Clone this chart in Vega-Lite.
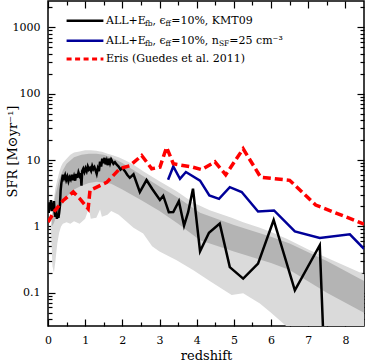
{
  "$schema": "https://vega.github.io/schema/vega-lite/v6.json",
  "width": 316,
  "height": 325,
  "autosize": "none",
  "padding": {"left": 48, "top": 1, "right": 2, "bottom": 36},
  "config": {
    "view": {"stroke": "black", "strokeWidth": 1.5},
    "axis": {"domain": false, "grid": false, "labelFont": "DejaVu Serif", "labelFontSize": 11, "labelColor": "black", "tickColor": "black", "tickWidth": 1.2, "titleFont": "DejaVu Serif", "titleFontSize": 12, "titleFontWeight": "normal", "titleColor": "black", "labelOverlap": false, "zindex": 1}
  },
  "datasets": {
    "light": [
      {"z": 0.08, "lo": 0.9, "hi": 1.0}, {"z": 0.12, "lo": 0.25, "hi": 1.6}, {"z": 0.16, "lo": 0.2, "hi": 2.6},
      {"z": 0.2, "lo": 0.3, "hi": 3.8}, {"z": 0.25, "lo": 0.55, "hi": 5.0}, {"z": 0.3, "lo": 0.8, "hi": 6.5},
      {"z": 0.35, "lo": 1.0, "hi": 8.0}, {"z": 0.4, "lo": 1.1, "hi": 9.0}, {"z": 0.5, "lo": 1.15, "hi": 10.5},
      {"z": 0.6, "lo": 1.1, "hi": 12.0}, {"z": 0.7, "lo": 1.2, "hi": 13.0}, {"z": 0.85, "lo": 1.1, "hi": 13.5},
      {"z": 1.0, "lo": 1.3, "hi": 14.0}, {"z": 1.1, "lo": 1.9, "hi": 14.0}, {"z": 1.15, "lo": 1.3, "hi": 14.0},
      {"z": 1.3, "lo": 1.35, "hi": 13.8}, {"z": 1.4, "lo": 1.8, "hi": 13.5}, {"z": 1.45, "lo": 1.4, "hi": 13.3},
      {"z": 1.6, "lo": 1.5, "hi": 12.5}, {"z": 1.7, "lo": 1.7, "hi": 12.0}, {"z": 1.9, "lo": 1.5, "hi": 11.0},
      {"z": 2.1, "lo": 1.2, "hi": 9.8}, {"z": 2.3, "lo": 0.95, "hi": 8.5}, {"z": 2.56, "lo": 0.78, "hi": 6.8},
      {"z": 2.8, "lo": 0.5, "hi": 5.6}, {"z": 3.0, "lo": 0.42, "hi": 4.8}, {"z": 3.46, "lo": 0.31, "hi": 3.4},
      {"z": 3.9, "lo": 0.22, "hi": 2.3}, {"z": 4.35, "lo": 0.15, "hi": 1.75}, {"z": 4.94, "lo": 0.092, "hi": 1.35},
      {"z": 5.25, "lo": 0.098, "hi": 1.15}, {"z": 5.7, "lo": 0.069, "hi": 0.95}, {"z": 6.0, "lo": 0.05, "hi": 0.82},
      {"z": 6.42, "lo": 0.031, "hi": 0.65}, {"z": 7.0, "lo": 0.018, "hi": 0.45}, {"z": 8.5, "lo": 0.006, "hi": 0.19}
    ],
    "dark": [
      {"z": 0.1, "lo": 1.0, "hi": 1.3}, {"z": 0.15, "lo": 1.1, "hi": 2.0}, {"z": 0.2, "lo": 1.3, "hi": 3.0},
      {"z": 0.3, "lo": 1.8, "hi": 5.0}, {"z": 0.4, "lo": 2.3, "hi": 7.0}, {"z": 0.5, "lo": 2.8, "hi": 8.8},
      {"z": 0.7, "lo": 3.6, "hi": 11.0}, {"z": 0.9, "lo": 4.1, "hi": 12.0}, {"z": 1.1, "lo": 4.5, "hi": 12.5},
      {"z": 1.3, "lo": 4.7, "hi": 12.5}, {"z": 1.5, "lo": 4.6, "hi": 12.0}, {"z": 1.7, "lo": 4.4, "hi": 11.0},
      {"z": 2.0, "lo": 3.6, "hi": 9.0}, {"z": 2.5, "lo": 2.5, "hi": 6.0}, {"z": 3.0, "lo": 1.7, "hi": 4.0},
      {"z": 3.5, "lo": 1.1, "hi": 2.7}, {"z": 4.09, "lo": 0.62, "hi": 1.6}, {"z": 5.0, "lo": 0.42, "hi": 1.05},
      {"z": 6.0, "lo": 0.28, "hi": 0.7}, {"z": 6.5, "lo": 0.22, "hi": 0.55}, {"z": 7.5, "lo": 0.1, "hi": 0.3},
      {"z": 8.5, "lo": 0.05, "hi": 0.15}
    ],
    "kmt": [
      {"z": 0.0, "sfr": 2.1}, {"z": 0.02, "sfr": 1.6}, {"z": 0.04, "sfr": 2.3}, {"z": 0.06, "sfr": 1.8},
      {"z": 0.08, "sfr": 2.5}, {"z": 0.1, "sfr": 1.7}, {"z": 0.12, "sfr": 2.2}, {"z": 0.14, "sfr": 1.9},
      {"z": 0.16, "sfr": 2.4}, {"z": 0.18, "sfr": 1.6}, {"z": 0.2, "sfr": 1.4}, {"z": 0.22, "sfr": 1.8},
      {"z": 0.24, "sfr": 1.3}, {"z": 0.26, "sfr": 1.5}, {"z": 0.28, "sfr": 1.35}, {"z": 0.3, "sfr": 1.6},
      {"z": 0.32, "sfr": 2.0}, {"z": 0.34, "sfr": 3.5}, {"z": 0.36, "sfr": 4.5}, {"z": 0.38, "sfr": 5.2},
      {"z": 0.4, "sfr": 6.0}, {"z": 0.43, "sfr": 5.3}, {"z": 0.46, "sfr": 5.9}, {"z": 0.49, "sfr": 5.0},
      {"z": 0.52, "sfr": 5.6}, {"z": 0.55, "sfr": 4.8}, {"z": 0.58, "sfr": 5.5}, {"z": 0.61, "sfr": 5.1},
      {"z": 0.64, "sfr": 6.0}, {"z": 0.67, "sfr": 5.0}, {"z": 0.7, "sfr": 5.7}, {"z": 0.73, "sfr": 4.9},
      {"z": 0.76, "sfr": 6.2}, {"z": 0.79, "sfr": 5.4}, {"z": 0.82, "sfr": 6.5}, {"z": 0.85, "sfr": 5.8},
      {"z": 0.88, "sfr": 6.3}, {"z": 0.9, "sfr": 4.1}, {"z": 0.92, "sfr": 6.8}, {"z": 0.95, "sfr": 7.4},
      {"z": 0.98, "sfr": 6.6}, {"z": 1.01, "sfr": 7.5}, {"z": 1.04, "sfr": 6.8}, {"z": 1.07, "sfr": 8.0},
      {"z": 1.1, "sfr": 7.2}, {"z": 1.13, "sfr": 7.6}, {"z": 1.16, "sfr": 6.9}, {"z": 1.19, "sfr": 8.1},
      {"z": 1.22, "sfr": 7.3}, {"z": 1.25, "sfr": 7.8}, {"z": 1.28, "sfr": 7.0}, {"z": 1.31, "sfr": 6.2},
      {"z": 1.34, "sfr": 7.5}, {"z": 1.37, "sfr": 6.8}, {"z": 1.4, "sfr": 9.5}, {"z": 1.43, "sfr": 8.0},
      {"z": 1.46, "sfr": 10.5}, {"z": 1.49, "sfr": 9.0}, {"z": 1.52, "sfr": 10.8}, {"z": 1.55, "sfr": 8.6},
      {"z": 1.58, "sfr": 9.8}, {"z": 1.61, "sfr": 8.4}, {"z": 1.64, "sfr": 10.5}, {"z": 1.67, "sfr": 9.0},
      {"z": 1.7, "sfr": 10.2}, {"z": 1.73, "sfr": 9.5}, {"z": 1.76, "sfr": 8.8}, {"z": 1.8, "sfr": 9.3},
      {"z": 1.85, "sfr": 8.5}, {"z": 1.9, "sfr": 8.0}, {"z": 1.95, "sfr": 7.2}, {"z": 2.0, "sfr": 7.6},
      {"z": 2.07, "sfr": 6.8}, {"z": 2.13, "sfr": 6.0}, {"z": 2.2, "sfr": 5.4}, {"z": 2.3, "sfr": 6.1},
      {"z": 2.47, "sfr": 3.3}, {"z": 2.65, "sfr": 5.0}, {"z": 2.8, "sfr": 3.7}, {"z": 3.01, "sfr": 2.5},
      {"z": 3.1, "sfr": 2.9}, {"z": 3.25, "sfr": 1.64}, {"z": 3.37, "sfr": 1.65}, {"z": 3.52, "sfr": 2.4},
      {"z": 3.66, "sfr": 1.03}, {"z": 3.77, "sfr": 1.64}, {"z": 3.9, "sfr": 3.7}, {"z": 4.09, "sfr": 0.42},
      {"z": 4.33, "sfr": 0.8}, {"z": 4.62, "sfr": 1.1}, {"z": 4.89, "sfr": 0.243}, {"z": 5.25, "sfr": 0.163},
      {"z": 5.65, "sfr": 0.275}, {"z": 6.07, "sfr": 1.25}, {"z": 6.64, "sfr": 0.109}, {"z": 7.31, "sfr": 0.52},
      {"z": 7.43, "sfr": 0.01}
    ],
    "nsf": [
      {"z": 3.23, "sfr": 5.05}, {"z": 3.37, "sfr": 8.0}, {"z": 3.55, "sfr": 5.2}, {"z": 3.71, "sfr": 6.6},
      {"z": 4.09, "sfr": 4.9}, {"z": 4.34, "sfr": 2.93}, {"z": 4.6, "sfr": 2.6}, {"z": 4.89, "sfr": 3.9},
      {"z": 5.21, "sfr": 3.3}, {"z": 5.65, "sfr": 1.68}, {"z": 6.08, "sfr": 1.74}, {"z": 6.64, "sfr": 0.84},
      {"z": 7.31, "sfr": 0.67}, {"z": 8.12, "sfr": 0.76}, {"z": 8.5, "sfr": 0.46}
    ],
    "eris": [
      {"z": 0.0, "sfr": 1.16}, {"z": 0.19, "sfr": 1.74}, {"z": 0.41, "sfr": 2.46}, {"z": 0.68, "sfr": 3.3},
      {"z": 0.86, "sfr": 2.6}, {"z": 1.08, "sfr": 1.85}, {"z": 1.13, "sfr": 3.5}, {"z": 1.58, "sfr": 4.6},
      {"z": 1.94, "sfr": 7.5}, {"z": 2.2, "sfr": 8.2}, {"z": 2.52, "sfr": 11.7}, {"z": 2.79, "sfr": 7.4},
      {"z": 3.01, "sfr": 7.8}, {"z": 3.19, "sfr": 15.6}, {"z": 3.37, "sfr": 8.8}, {"z": 3.9, "sfr": 7.8},
      {"z": 4.13, "sfr": 7.2}, {"z": 4.49, "sfr": 9.4}, {"z": 4.78, "sfr": 6.0}, {"z": 5.25, "sfr": 14.8},
      {"z": 5.72, "sfr": 5.5}, {"z": 6.5, "sfr": 4.95}, {"z": 7.2, "sfr": 2.1}, {"z": 8.1, "sfr": 1.33},
      {"z": 8.5, "sfr": 1.08}
    ],
    "legendMain": [
      {"z": 1.559, "sfr": 1260, "t": "ALL+E"}, {"z": 2.812, "sfr": 1260, "t": ", ϵ"}, {"z": 3.313, "sfr": 1260, "t": "=10%, KMT09"},
      {"z": 1.559, "sfr": 630, "t": "ALL+E"}, {"z": 2.812, "sfr": 630, "t": ", ϵ"}, {"z": 3.313, "sfr": 630, "t": "=10%, n"},
      {"z": 4.876, "sfr": 630, "t": "=25 cm⁻³"},
      {"z": 1.559, "sfr": 335, "t": "Eris (Guedes et al. 2011)"}
    ],
    "legendSub": [
      {"z": 2.608, "sfr": 1260, "t": "fb"}, {"z": 3.163, "sfr": 1260, "t": "ff"},
      {"z": 2.608, "sfr": 630, "t": "fb"}, {"z": 3.163, "sfr": 630, "t": "ff"}, {"z": 4.597, "sfr": 630, "t": "SF"}
    ]
  },
  "layer": [
    {
      "data": {"name": "light"},
      "mark": {"type": "area", "color": "#dadada", "clip": true},
      "encoding": {
        "x": {"field": "z", "type": "quantitative", "scale": {"domain": [0, 8.5], "nice": false, "zero": false},
          "axis": {"orient": "bottom", "values": [0, 1, 2, 3, 4, 5, 6, 7, 8], "tickSize": -7, "labelPadding": 15, "labelFlush": false, "format": "d", "title": "redshift", "titleFontSize": 13, "titlePadding": 4}},
        "y": {"field": "lo", "type": "quantitative", "scale": {"type": "log", "domain": [0.0315, 2500], "nice": false},
          "axis": {"orient": "left", "values": [0.1, 1, 10, 100, 1000], "tickSize": -7, "labelPadding": 15, "format": "~g", "title": "SFR [M⊙yr⁻¹]", "titleFontSize": 13, "titleX": -29, "titleY": 150}},
        "y2": {"field": "hi"}
      }
    },
    {
      "data": {"name": "dark"},
      "mark": {"type": "area", "color": "#b4b4b4", "clip": true},
      "encoding": {
        "x": {"field": "z", "type": "quantitative", "scale": {"domain": [0, 8.5], "nice": false, "zero": false},
          "axis": {"orient": "bottom", "values": [0.5, 1.5, 2.5, 3.5, 4.5, 5.5, 6.5, 7.5], "tickSize": -4, "labels": false, "title": null}},
        "y": {"field": "lo", "type": "quantitative", "scale": {"type": "log", "domain": [0.0315, 2500], "nice": false},
          "axis": {"orient": "left", "values": [0.04, 0.05, 0.06, 0.07, 0.08, 0.09, 0.2, 0.3, 0.4, 0.5, 0.6, 0.7, 0.8, 0.9, 2, 3, 4, 5, 6, 7, 8, 9, 20, 30, 40, 50, 60, 70, 80, 90, 200, 300, 400, 500, 600, 700, 800, 900, 2000], "tickSize": -4, "labels": false, "title": null}},
        "y2": {"field": "hi"}
      }
    },
    {
      "data": {"name": "kmt"},
      "mark": {"type": "line", "color": "black", "strokeWidth": 2.5, "clip": true, "strokeJoin": "miter"},
      "encoding": {
        "x": {"field": "z", "type": "quantitative", "scale": {"domain": [0, 8.5], "nice": false, "zero": false},
          "axis": {"orient": "top", "values": [0, 1, 2, 3, 4, 5, 6, 7, 8], "tickSize": -7, "labels": false, "title": null}},
        "y": {"field": "sfr", "type": "quantitative", "scale": {"type": "log", "domain": [0.0315, 2500], "nice": false},
          "axis": {"orient": "right", "values": [0.1, 1, 10, 100, 1000], "tickSize": -7, "labels": false, "title": null}}
      }
    },
    {
      "data": {"name": "nsf"},
      "mark": {"type": "line", "color": "#000099", "strokeWidth": 2.5, "clip": true},
      "encoding": {
        "x": {"field": "z", "type": "quantitative", "scale": {"domain": [0, 8.5], "nice": false, "zero": false},
          "axis": {"orient": "top", "values": [0.5, 1.5, 2.5, 3.5, 4.5, 5.5, 6.5, 7.5], "tickSize": -4, "labels": false, "title": null}},
        "y": {"field": "sfr", "type": "quantitative", "scale": {"type": "log", "domain": [0.0315, 2500], "nice": false},
          "axis": {"orient": "right", "values": [0.04, 0.05, 0.06, 0.07, 0.08, 0.09, 0.2, 0.3, 0.4, 0.5, 0.6, 0.7, 0.8, 0.9, 2, 3, 4, 5, 6, 7, 8, 9, 20, 30, 40, 50, 60, 70, 80, 90, 200, 300, 400, 500, 600, 700, 800, 900, 2000], "tickSize": -4, "labels": false, "title": null}}
      }
    },
    {
      "data": {"name": "eris"},
      "mark": {"type": "line", "color": "#ff0000", "strokeWidth": 3.5, "strokeDash": [8, 4], "clip": true},
      "encoding": {
        "x": {"field": "z", "type": "quantitative", "scale": {"domain": [0, 8.5], "nice": false, "zero": false}, "axis": null},
        "y": {"field": "sfr", "type": "quantitative", "scale": {"type": "log", "domain": [0.0315, 2500], "nice": false}, "axis": null}
      }
    },
    {
      "data": {"values": [{"z": 0.5, "z2": 1.49, "sfr": 1260}]},
      "mark": {"type": "rule", "color": "black", "strokeWidth": 2.5},
      "encoding": {
        "x": {"field": "z", "type": "quantitative", "scale": {"domain": [0, 8.5], "nice": false, "zero": false}, "axis": null},
        "x2": {"field": "z2"},
        "y": {"field": "sfr", "type": "quantitative", "scale": {"type": "log", "domain": [0.0315, 2500], "nice": false}, "axis": null}
      }
    },
    {
      "data": {"values": [{"z": 0.5, "z2": 1.49, "sfr": 630}]},
      "mark": {"type": "rule", "color": "#000099", "strokeWidth": 2.5},
      "encoding": {
        "x": {"field": "z", "type": "quantitative", "scale": {"domain": [0, 8.5], "nice": false, "zero": false}, "axis": null},
        "x2": {"field": "z2"},
        "y": {"field": "sfr", "type": "quantitative", "scale": {"type": "log", "domain": [0.0315, 2500], "nice": false}, "axis": null}
      }
    },
    {
      "data": {"values": [{"z": 0.5, "z2": 1.49, "sfr": 335}]},
      "mark": {"type": "rule", "color": "#ff0000", "strokeWidth": 3, "strokeDash": [5, 3.5]},
      "encoding": {
        "x": {"field": "z", "type": "quantitative", "scale": {"domain": [0, 8.5], "nice": false, "zero": false}, "axis": null},
        "x2": {"field": "z2"},
        "y": {"field": "sfr", "type": "quantitative", "scale": {"type": "log", "domain": [0.0315, 2500], "nice": false}, "axis": null}
      }
    },
    {
      "data": {"name": "legendMain"},
      "mark": {"type": "text", "font": "DejaVu Serif", "fontSize": 11, "align": "left", "baseline": "middle", "color": "black"},
      "encoding": {
        "x": {"field": "z", "type": "quantitative", "scale": {"domain": [0, 8.5], "nice": false, "zero": false}, "axis": null},
        "y": {"field": "sfr", "type": "quantitative", "scale": {"type": "log", "domain": [0.0315, 2500], "nice": false}, "axis": null},
        "text": {"field": "t"}
      }
    },
    {
      "data": {"name": "legendSub"},
      "mark": {"type": "text", "font": "DejaVu Serif", "fontSize": 7.5, "align": "left", "baseline": "middle", "dy": 3, "color": "black"},
      "encoding": {
        "x": {"field": "z", "type": "quantitative", "scale": {"domain": [0, 8.5], "nice": false, "zero": false}, "axis": null},
        "y": {"field": "sfr", "type": "quantitative", "scale": {"type": "log", "domain": [0.0315, 2500], "nice": false}, "axis": null},
        "text": {"field": "t"}
      }
    }
  ],
  "resolve": {"axis": {"x": "independent", "y": "independent"}}
}
